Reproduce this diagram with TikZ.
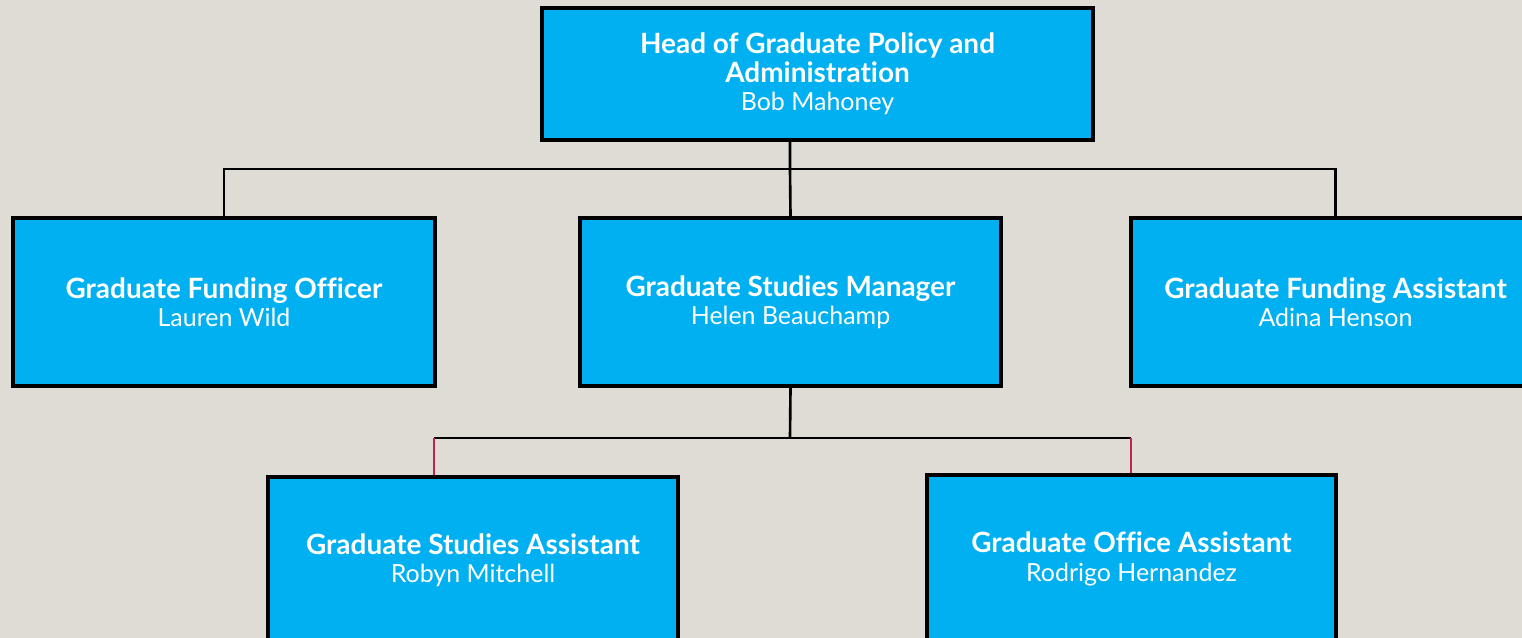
\documentclass[tikz,border=0pt]{standalone}
\usepackage{fontspec}
\setmainfont{Lato}[Ligatures=NoCommon]
\usetikzlibrary{positioning,calc}

\definecolor{paper}{HTML}{DFDCD5}
\definecolor{boxblue}{HTML}{00B0F0}
\definecolor{linkred}{HTML}{C0244E}

\newcommand{\role}[1]{{\fontsize{15.9}{16}\selectfont\bfseries #1}}

\tikzset{
	post/.style={draw=black, line width=2pt, fill=boxblue, text=white, align=center,
		inner sep=2pt, font=\fontsize{14.2}{16.2}\selectfont},
	link/.style={line width=1.5pt},
	sublink/.style={line width=0.9pt, draw=linkred}
}

\begin{document}
\begin{tikzpicture}[x=0.02cm, y=-0.02cm]
	\fill[paper] (0,0) rectangle (1522,638);
	\useasboundingbox (0,0) rectangle (1522,638);
	\clip (0,0) rectangle (1522,638);

	% boxes
	\node[post, minimum width=11.02cm, minimum height=2.64cm] (head) at (817.5,74)
		{\role{Head of Graduate Policy and}\\\role{Administration}\\Bob Mahoney};
	\node[post, minimum width=8.44cm, minimum height=3.36cm] (fofficer) at (224,302)
		{\role{Graduate Funding Officer}\\Lauren Wild};
	\node[post, minimum width=8.42cm, minimum height=3.36cm] (manager) at (790.5,302)
		{\role{Graduate Studies Manager}\\Helen Beauchamp};
	\node[post, minimum width=8.18cm, minimum height=3.36cm] (fassist) at (1335.5,302)
		{\role{Graduate Funding Assistant}\\Adina Henson};
	\node[post, minimum width=8.2cm, minimum height=3.32cm] (sassist) at (473,560)
		{\role{Graduate Studies Assistant}\\Robyn Mitchell};
	\node[post, minimum width=8.18cm, minimum height=3.36cm] (oassist) at (1131.5,559)
		{\role{Graduate Office Assistant}\\Rodrigo Hernandez};

	% connectors
	\coordinate (top) at (790,169);
	\coordinate (low) at (790,438);
	\coordinate (lowleft) at (434,438);
	\coordinate (lowright) at (1131,438);

	\draw[link] (head.south -| top) -- (top) -- (manager.north);
	\draw[link] (fofficer.north) |- (top) -| (fassist.north);
	\draw[link] (manager.south) -- (low);
	\draw[link] (lowleft) -- (lowright);
	\draw[sublink] (lowleft) -- (lowleft |- sassist.north);
	\draw[sublink] (lowright) -- (lowright |- oassist.north);

\end{tikzpicture}
\end{document}
